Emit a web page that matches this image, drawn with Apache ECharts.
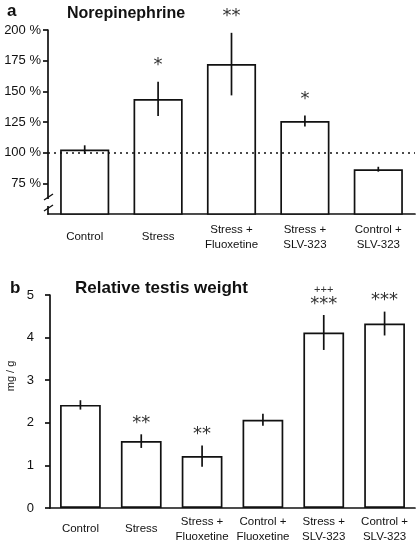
<!DOCTYPE html>
<html><head><meta charset="utf-8">
<script src="https://cdn.jsdelivr.net/npm/echarts@6/dist/echarts.min.js"></script>
<style>html,body{margin:0;padding:0;background:#fff}#c{width:417px;height:546px}</style>
</head><body><div id="c"></div>
<script>
// Panel a: Norepinephrine (% of control)
const catsA = ['Control', 'Stress', 'Stress +\nFluoxetine', 'Stress +\nSLV-323', 'Control +\nSLV-323'];
const meanA = [102.5, 143.8, 172.2, 125.8, 86.5];
const errA  = [3.5, 14, 25.5, 4.5, 2];
const sigA  = ['', '*', '**', '*', ''];
const ticksA = [75, 100, 125, 150, 175, 200];

// Panel b: Relative testis weight (mg / g)
const catsB = ['Control', 'Stress', 'Stress +\nFluoxetine', 'Control +\nFluoxetine', 'Stress +\nSLV-323', 'Control +\nSLV-323'];
const meanB = [2.42, 1.57, 1.22, 2.07, 4.12, 4.33];
const errB  = [0.11, 0.16, 0.25, 0.14, 0.41, 0.28];
const sigB  = ['', '**', '**', '', '***', '***'];
const plusB = ['', '', '', '', '+++', ''];

const FONT = 'Liberation Sans, Arial, sans-serif';
const STAR = 'DejaVu Sans, sans-serif';
const chart = echarts.init(document.getElementById('c'), null, {renderer: 'canvas'});

function errData(means, errs) { return means.map((m, i) => [i, m - errs[i], m + errs[i]]); }
function sigData(means, errs) { return means.map((m, i) => [i, m + errs[i]]); }

function errRender(params, api) {
  const lo = api.coord([api.value(0), api.value(1)]);
  const hi = api.coord([api.value(0), api.value(2)]);
  return {type: 'line', shape: {x1: lo[0], y1: lo[1], x2: hi[0], y2: hi[1]},
    style: {stroke: '#111', lineWidth: 1.7}};
}
function sigRender(sigs, plus, off) {
  return function (params, api) {
    const p = api.coord([api.value(0), api.value(1)]);
    const s = sigs[params.dataIndex];
    const pl = plus ? plus[params.dataIndex] : '';
    const children = [];
    if (s) children.push({type: 'text', x: p[0], y: p[1] - off,
      style: {text: s, fontSize: 18, fontFamily: STAR, fill: '#333', align: 'center', verticalAlign: 'middle'}});
    if (pl) children.push({type: 'text', x: p[0], y: p[1] - off - 14,
      style: {text: pl, fontSize: 11, fontFamily: FONT, fill: '#333', align: 'center', verticalAlign: 'middle'}});
    return {type: 'group', children: children};
  };
}

const axisLineStyle = {color: '#111', width: 1.7};
const option = {
  animation: false,
  title: [
    {text: 'a', left: 2, top: -2, textStyle: {fontSize: 17, fontWeight: 'bold', fontFamily: FONT, color: '#111'}},
    {text: 'Norepinephrine', left: 62, top: 1, textStyle: {fontSize: 16, fontWeight: 'bold', fontFamily: FONT, color: '#111'}},
    {text: 'b', left: 5, top: 275, textStyle: {fontSize: 17, fontWeight: 'bold', fontFamily: FONT, color: '#111'}},
    {text: 'Relative testis weight', left: 70, top: 275, textStyle: {fontSize: 17, fontWeight: 'bold', fontFamily: FONT, color: '#111'}}
  ],
  grid: [
    {left: 48, right: 2, top: 30, height: 184},
    {left: 50, right: 2, top: 295, height: 213}
  ],
  xAxis: [
    {type: 'category', gridIndex: 0, data: catsA, axisLine: {lineStyle: axisLineStyle}, axisTick: {show: false},
      axisLabel: {color: '#111', fontSize: 11.5, fontFamily: FONT, margin: 23, lineHeight: 15, interval: 0, verticalAlign: 'middle'}},
    {type: 'category', gridIndex: 1, data: catsB, axisLine: {lineStyle: axisLineStyle}, axisTick: {show: false},
      axisLabel: {color: '#111', fontSize: 11.5, fontFamily: FONT, margin: 21, lineHeight: 15, interval: 0, verticalAlign: 'middle'}}
  ],
  yAxis: [
    {type: 'value', gridIndex: 0, min: 50, max: 200, interval: 25, splitLine: {show: false},
      axisLine: {show: true, lineStyle: axisLineStyle},
      axisTick: {show: true, length: 5, lineStyle: axisLineStyle, customValues: ticksA},
      axisLabel: {color: '#111', fontSize: 13, fontFamily: FONT, margin: 7, customValues: ticksA, formatter: v => v + ' %'}},
    {type: 'value', gridIndex: 1, min: 0, max: 5, interval: 1, splitLine: {show: false},
      axisLine: {show: true, lineStyle: axisLineStyle},
      axisTick: {show: true, length: 5, lineStyle: axisLineStyle},
      axisLabel: {color: '#111', fontSize: 13, fontFamily: FONT, margin: 16}}
  ],
  graphic: [
    {type: 'text', x: 11, y: 376, rotation: Math.PI / 2, z: 100,
      style: {text: 'mg / g', fontSize: 11, fontFamily: FONT, fill: '#111', align: 'center', verticalAlign: 'middle'}},
    {type: 'rect', shape: {x: 45, y: 199, width: 7, height: 7}, style: {fill: '#fff'}, z: 100},
    {type: 'line', shape: {x1: 44, y1: 200, x2: 53, y2: 194}, style: {stroke: '#111', lineWidth: 1.4}, z: 101},
    {type: 'line', shape: {x1: 44, y1: 211, x2: 53, y2: 205}, style: {stroke: '#111', lineWidth: 1.4}, z: 101}
  ],
  series: [
    {type: 'bar', xAxisIndex: 0, yAxisIndex: 0, data: meanA, barCategoryGap: '33%',
      itemStyle: {color: '#fff', borderColor: '#111', borderWidth: 1.7},
      markLine: {silent: true, symbol: 'none', label: {show: false},
        lineStyle: {color: '#111', type: [2, 4], width: 1.7}, data: [{yAxis: 100}]}},
    {type: 'bar', xAxisIndex: 1, yAxisIndex: 1, data: meanB, barCategoryGap: '33%',
      itemStyle: {color: '#fff', borderColor: '#111', borderWidth: 1.7}},
    {type: 'custom', xAxisIndex: 0, yAxisIndex: 0, data: errData(meanA, errA), renderItem: errRender, z: 5},
    {type: 'custom', xAxisIndex: 0, yAxisIndex: 0, data: sigData(meanA, errA), renderItem: sigRender(sigA, null, 16), z: 5},
    {type: 'custom', xAxisIndex: 1, yAxisIndex: 1, data: errData(meanB, errB), renderItem: errRender, z: 5},
    {type: 'custom', xAxisIndex: 1, yAxisIndex: 1, data: sigData(meanB, errB), renderItem: sigRender(sigB, plusB, 11), z: 5}
  ]
};
chart.setOption(option);
</script></body></html>
